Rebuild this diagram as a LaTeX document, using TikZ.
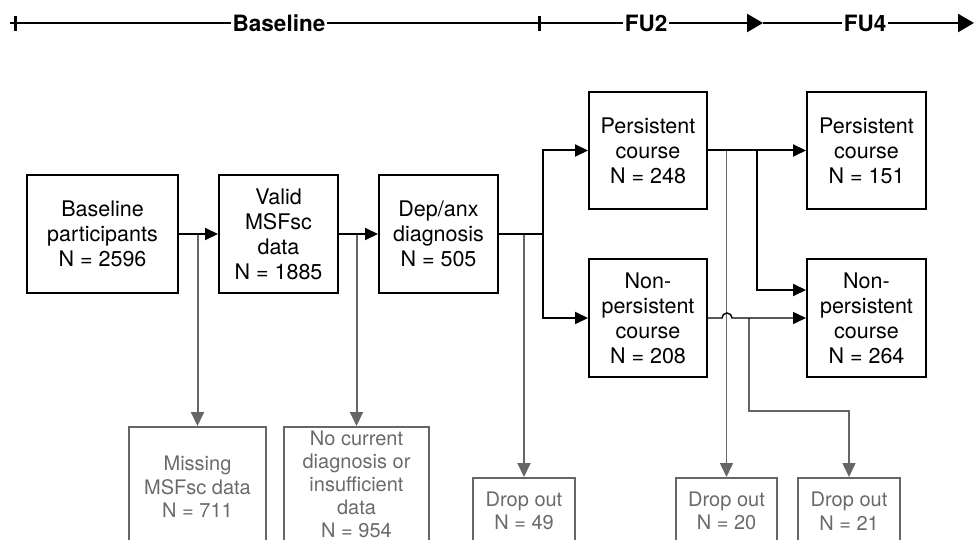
\documentclass[tikz,border=0pt]{standalone}
\usepackage{fontspec}
\setmainfont{TeX Gyre Heros}
\usetikzlibrary{arrows.meta,calc}
\definecolor{lgray}{HTML}{666666}
\definecolor{tgray}{HTML}{6A6A6A}
\tikzset{
  box/.style={draw=black,line width=2pt,align=center,inner sep=1pt,
    font=\fontsize{21.5}{25}\selectfont},
  gbox/.style={draw=lgray,text=tgray,line width=2pt,align=center,inner sep=1pt,
    font=\fontsize{20}{23.5}\selectfont},
  arr/.style={draw=black,line width=2pt,-{Triangle[length=13pt,width=12pt]}},
  thinarr/.style={draw=black,line width=1.4pt,-{Triangle[length=13pt,width=12pt]}},
  garr/.style={draw=lgray,line width=2pt,-{Triangle[length=14pt,width=13pt]}},
  tl/.style={draw=black,line width=3pt},
  tlarr/.style={draw=black,line width=2.6pt,-{Triangle[length=16pt,width=18pt]}},
  tllabel/.style={fill=white,inner sep=1.5pt,font=\fontsize{22.5}{25}\selectfont\bfseries},
}
\begin{document}
\begin{tikzpicture}[x=1pt,y=-1pt]
\useasboundingbox (0,0) rectangle (974,540);
\clip (0,0) rectangle (974,540);

% timeline
\coordinate (t0) at (10,23);
\coordinate (t1) at (763,23);
\coordinate (t2) at (974,23);
\draw[tlarr] (t0) -- (t1);
\draw[tlarr] (t1) -- (t2);
\draw[tl] (15,16) -- (15,31);
\draw[tl] (539,16) -- (539,31);
\node[tllabel] (tlb) at (279,23) {Baseline};
\node[tllabel] (tlf2) at (646,23) {FU2};
\node[tllabel] (tlf4) at (865,23) {FU4};

% main boxes
\node[box,minimum width=151pt,minimum height=118pt] (b1) at (102.5,234) {Baseline\\participants\\N = 2596};
\node[box,minimum width=119pt,minimum height=118pt] (b2) at (278.5,234) {Valid\\MSFsc\\data\\N = 1885};
\node[box,minimum width=119pt,minimum height=118pt] (b3) at (438.5,234) {Dep/anx\\diagnosis\\N = 505};
\node[box,minimum width=118pt,minimum height=117pt] (p2) at (648,150.5) {Persistent\\course\\N = 248};
\node[box,minimum width=118pt,minimum height=118pt] (n2) at (648,318) {Non-\\persistent\\course\\N = 208};
\node[box,minimum width=119pt,minimum height=117pt] (p4) at (866.5,150.5) {Persistent\\course\\N = 151};
\node[box,minimum width=119pt,minimum height=118pt] (n4) at (866.5,318) {Non-\\persistent\\course\\N = 264};

% drop-out boxes
\node[gbox,minimum width=137pt,minimum height=120pt] (m) at (197.5,487) {Missing\\MSFsc data\\N = 711};
\node[gbox,minimum width=145pt,minimum height=124pt,text depth=10pt,font=\fontsize{20}{23}\selectfont] (nc) at (356.5,489) {No current\\diagnosis or\\insufficient\\data\\N = 954};
\node[gbox,minimum width=102pt,minimum height=66pt] (d1) at (524,511) {Drop out\\N = 49};
\node[gbox,minimum width=101pt,minimum height=66pt] (d2) at (726.5,511) {Drop out\\N = 20};
\node[gbox,minimum width=102pt,minimum height=66pt] (d3) at (849,511) {Drop out\\N = 21};

% gray drop lines
\draw[garr] (m.north |- b1.east) -- (m.north);
\draw[garr] (nc.north |- b2.east) -- (nc.north);
\draw[garr] (d1.north |- b3.east) -- (d1.north);
\draw[garr,line width=1.5pt] (d2.north |- p2.east) -- (d2.north);
\coordinate (g3) at (749,318);
\coordinate (g3b) at (749,411);
\draw[garr,line width=1.5pt] (g3) -- (g3b) -| (d3.north);

% black connectors
\draw[arr] (b1.east) -- (b2.west);
\draw[arr] (b2.east) -- (b3.west);
\coordinate (sp) at (543,234);
\draw[arr] (b3.east) -- (sp) |- (p2.west);
\draw[arr] (sp) |- (n2.west);
\draw[arr] (p2.east) -- (p4.west);
\coordinate (k) at (757,150.5);
\draw[arr] (k) |- ($(n4.west)+(0,-28)$);
\draw[thinarr] (n2.east) -- (722,318) arc[start angle=180,end angle=0,radius=5pt] -- (n4.west);
\end{tikzpicture}
\end{document}
